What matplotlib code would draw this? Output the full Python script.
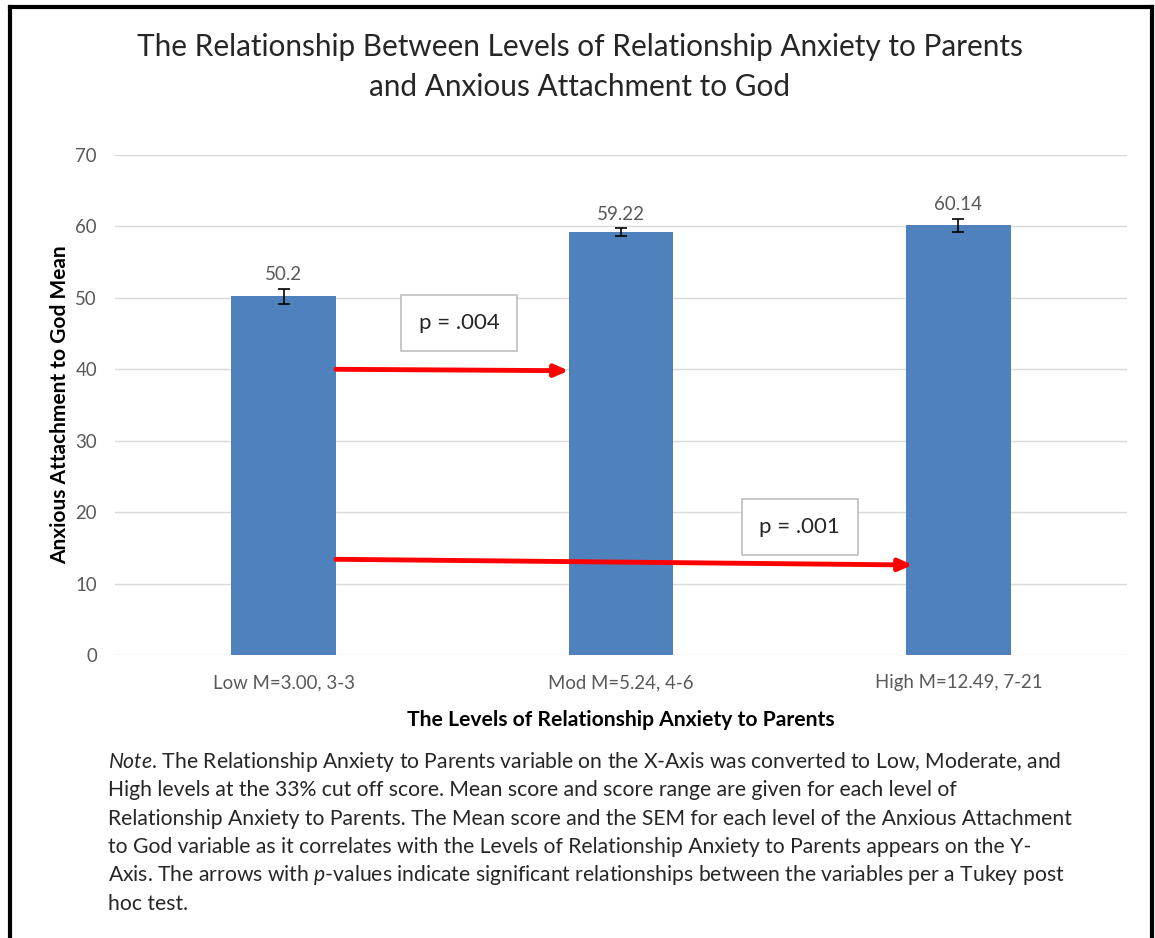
import matplotlib
matplotlib.use('Agg')
import matplotlib.pyplot as plt
from matplotlib.lines import Line2D

plt.rcParams['font.family'] = ['Lato', 'DejaVu Sans']
plt.rcParams['mathtext.fontset'] = 'custom'
plt.rcParams['mathtext.it'] = 'Lato:italic'
plt.rcParams['mathtext.rm'] = 'Lato'

# ── Dados ─────────────────────────────────────────────────────────────────────
categorias = ['Low M=3.00, 3-3', 'Mod M=5.24, 4-6', 'High M=12.49, 7-21']
medias = [50.2, 59.22, 60.14]
sem = [1.1, 0.5, 0.9]
rotulos = ['50.2', '59.22', '60.14']

# setas de comparacao Tukey: (x inicio, y inicio, x fim, y fim, texto, x texto, y texto)
setas = [
    (0.155, 40.0, 0.845, 39.8, 'p = .004', 0.52, 46.5),
    (0.155, 13.4, 1.865, 12.6, 'p = .001', 1.53, 17.9),
]

BAR_COLOR = '#4f81bd'
TXT_COLOR = '#595959'

W, H = 1155, 938
fig = plt.figure(figsize=(W / 100, H / 100), dpi=100)
ax = fig.add_axes([115 / W, 1 - 655 / H, (1127 - 115) / W, (655 - 155) / H])

x = range(len(categorias))
ax.bar(x, medias, 0.31, color=BAR_COLOR, zorder=2)
ax.errorbar(x, medias, yerr=sem, fmt='none', ecolor='black', elinewidth=1.2,
            capsize=4, capthick=1.2, zorder=3)
for xi, m, e, r in zip(x, medias, sem, rotulos):
    ax.annotate(r, (xi, m + e), xytext=(0, 4), textcoords='offset points',
                ha='center', va='bottom', fontsize=13.5, color=TXT_COLOR)

for x0, y0, x1, y1, txt, tx, ty in setas:
    ax.annotate('', xy=(x1, y1), xytext=(x0, y0),
                arrowprops=dict(arrowstyle='-|>,head_length=0.8,head_width=0.35',
                                color='#ff0000', lw=3.5, shrinkA=0, shrinkB=0),
                zorder=4)
    ax.text(tx, ty, txt, ha='center', va='center', fontsize=16, color='#262626',
            bbox=dict(boxstyle='square,pad=0.8', fc='white', ec='#bfbfbf', lw=1.2),
            zorder=5)

ax.set_xlim(-0.5, 2.5)
ax.set_ylim(0, 70)
ax.set_yticks(range(0, 71, 10))
ax.set_xticks(list(x))
ax.set_xticklabels(categorias)
ax.tick_params(length=0, labelsize=13.4, colors=TXT_COLOR, pad=14)
ax.tick_params(axis='y', pad=13)
for s in ax.spines.values():
    s.set_visible(False)
ax.grid(True, axis='y', color='#d9d9d9', lw=1, zorder=0)
ax.set_axisbelow(True)

ax.set_ylabel('Anxious Attachment to God Mean', fontsize=15, fontweight='bold',
              color='black', labelpad=4)
ax.set_xlabel('The Levels of Relationship Anxiety to Parents', fontsize=15.2,
              fontweight='bold', color='black', labelpad=13)

fig.text(580 / W, 1 - 67 / H,
         'The Relationship Between Levels of Relationship Anxiety to Parents\n'
         'and Anxious Attachment to God',
         ha='center', va='center', fontsize=21.4, color='#262626', linespacing=1.52)

linhas_nota = [
    r'$\it{Note}$. The Relationship Anxiety to Parents variable on the X-Axis was converted to Low, Moderate, and',
    'High levels at the 33% cut off score. Mean score and score range are given for each level of',
    'Relationship Anxiety to Parents. The Mean score and the SEM for each level of the Anxious Attachment',
    'to God variable as it correlates with the Levels of Relationship Anxiety to Parents appears on the Y-',
    r'Axis. The arrows with $\it{p}$-values indicate significant relationships between the variables per a Tukey post',
    'hoc test.',
]
for i, linha in enumerate(linhas_nota):
    fig.text(108 / W, 1 - (762 + i * 28.3) / H, linha, ha='left', va='center',
             fontsize=15.2, color='#262626')

# moldura preta
for xs, ys in [([9.5, 9.5], [938, 7]), ([9.5, 1151.5], [7, 7]),
               ([1151.5, 1151.5], [7, 938])]:
    fig.add_artist(Line2D([v / W for v in xs], [1 - v / H for v in ys],
                          color='black', lw=3, transform=fig.transFigure))

fig.savefig('out.png', dpi=100)
